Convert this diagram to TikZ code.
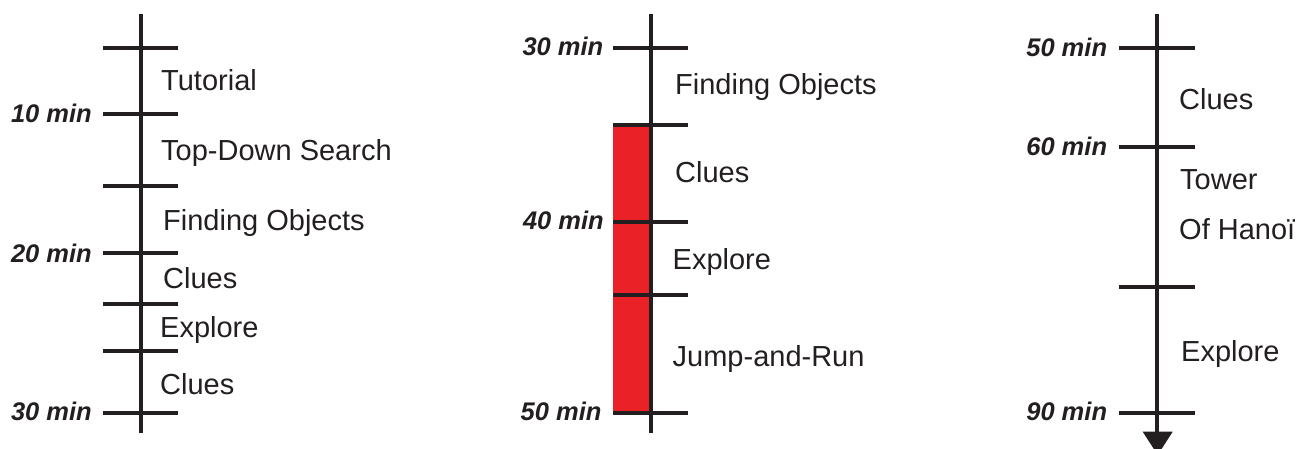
\documentclass[tikz,border=0pt]{standalone}
\usepackage{fontspec}
\setmainfont{Liberation Sans}
\definecolor{ink}{RGB}{35,31,32}
\definecolor{barred}{RGB}{234,34,39}
\begin{document}
\begin{tikzpicture}[x=1pt,y=-1pt,
  axis/.style={draw=ink,line width=4pt},
  tick/.style={draw=ink,line width=4pt},
  phase/.style={anchor=base west,inner sep=0pt,text=ink,font=\fontsize{29}{34}\selectfont},
  mintime/.style={anchor=base east,inner sep=0pt,text=ink,font=\fontsize{25.5}{30}\selectfont\bfseries\itshape}]
\useasboundingbox (0,0) rectangle (1310,448);
\clip (0,0) rectangle (1310,448);
% ---------- timeline 1 ----------
\draw[axis] (141,14) -- (141,433);
\foreach \y in {47.7,114,185.7,253,304,351,412.7}
  \draw[tick] (103,\y) -- (178,\y);
\node[mintime] (t10) at (92,122.7) {10 min};
\node[mintime] (t20) at (92,262.7) {20 min};
\node[mintime] (t30a) at (92,420) {30 min};
\node[phase] (p1) at (161,90.7) {Tutorial};
\node[phase] (p2) at (161,160.7) {Top-Down Search};
\node[phase] (p3) at (163,230) {Finding Objects};
\node[phase] (p4) at (163,288.7) {Clues};
\node[phase] (p5) at (160,337) {Explore};
\node[phase] (p6) at (160,394) {Clues};
% ---------- timeline 2 ----------
\fill[barred] (613,125) rectangle (650.7,412.7);
\draw[axis] (650.7,14) -- (650.7,433);
\foreach \y in {47.7,125,221.7,295,412.7}
  \draw[tick] (613,\y) -- (688,\y);
\node[mintime] (t30b) at (603.5,55) {30 min};
\node[mintime] (t40) at (604,229.3) {40 min};
\node[mintime] (t50a) at (601.7,420.7) {50 min};
\node[phase] (q1) at (675,94.3) {Finding Objects};
\node[phase] (q2) at (675,182.3) {Clues};
\node[phase] (q3) at (672.5,269.3) {Explore};
\node[phase] (q4) at (672.5,366.7) {Jump-and-Run};
% ---------- timeline 3 ----------
\draw[axis] (1157.3,14) -- (1157.3,433);
\foreach \y in {47.7,146.7,287.3,412.7}
  \draw[tick] (1119.3,\y) -- (1195,\y);
\fill[ink] (1142.7,431.7) -- (1172.7,431.7) -- (1157.7,455) -- cycle;
\node[mintime] (t50b) at (1107.3,56.7) {50 min};
\node[mintime] (t60) at (1107.3,155.7) {60 min};
\node[mintime] (t90) at (1107.3,420.7) {90 min};
\node[phase] (r1) at (1179,109) {Clues};
\node[phase] (r2) at (1180,189) {Tower};
\node[phase] (r3) at (1179,239) {Of Hanoï};
\node[phase] (r4) at (1181,361.7) {Explore};
\end{tikzpicture}
\end{document}
